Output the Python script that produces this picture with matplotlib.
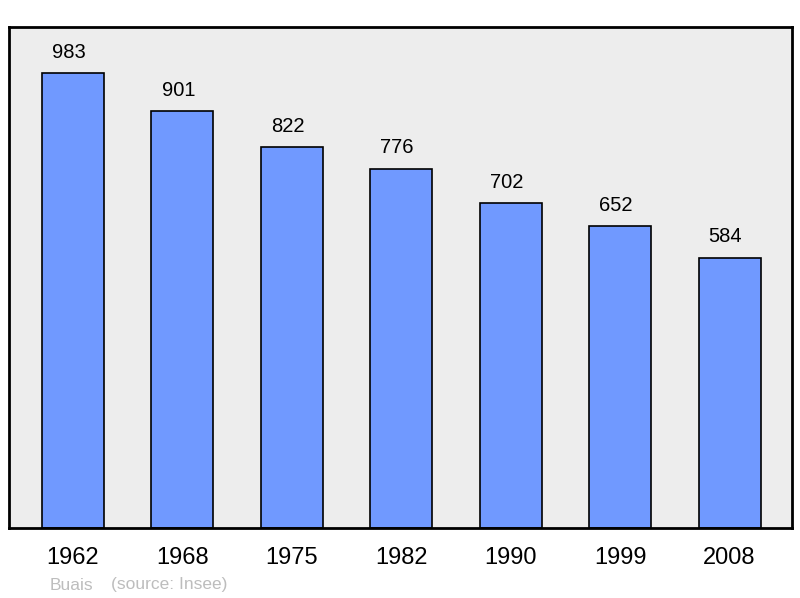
import numpy as np
import matplotlib
matplotlib.use("Agg")
import matplotlib.pyplot as plt

# population data
years = ["1962", "1968", "1975", "1982", "1990", "1999", "2008"]
population = [983, 901, 822, 776, 702, 652, 584]
commune = "Buais"
source = "(source: Insee)"

plt.rcParams["font.family"] = ["Liberation Sans", "DejaVu Sans"]

fig = plt.figure(figsize=(8, 5.98), dpi=100)
ax = fig.add_axes([9 / 800, 1 - 528 / 598, 783 / 800, 501 / 598])
ax.set_facecolor("#ededed")

x = np.arange(len(years))
ax.bar(x, population, width=0.567, color="#7099ff", edgecolor="black", linewidth=1.2, zorder=2)

# value labels sit a little left of the bar centre, as in the original
for xi, v in zip(x, population):
    ax.annotate(str(v), (xi, v), xytext=(-3, 11), textcoords="offset points",
                ha="center", va="baseline", fontsize=14.5)

ax.set_xlim(-0.585, 6.571)
ax.set_ylim(0, 1082)
ax.set_yticks([])
ax.set_xticks(x)
ax.set_xticklabels(years, fontsize=17)
ax.tick_params(axis="x", length=0, pad=14)
for s in ax.spines.values():
    s.set_linewidth(2)

fig.text(50 / 800, 1 - 585 / 598, commune, color="#bdbdbd", fontsize=12.5, va="center")
fig.text(111 / 800, 1 - 585 / 598, source, color="#bdbdbd", fontsize=12.5, va="center")

fig.savefig("out.png", dpi=100)
